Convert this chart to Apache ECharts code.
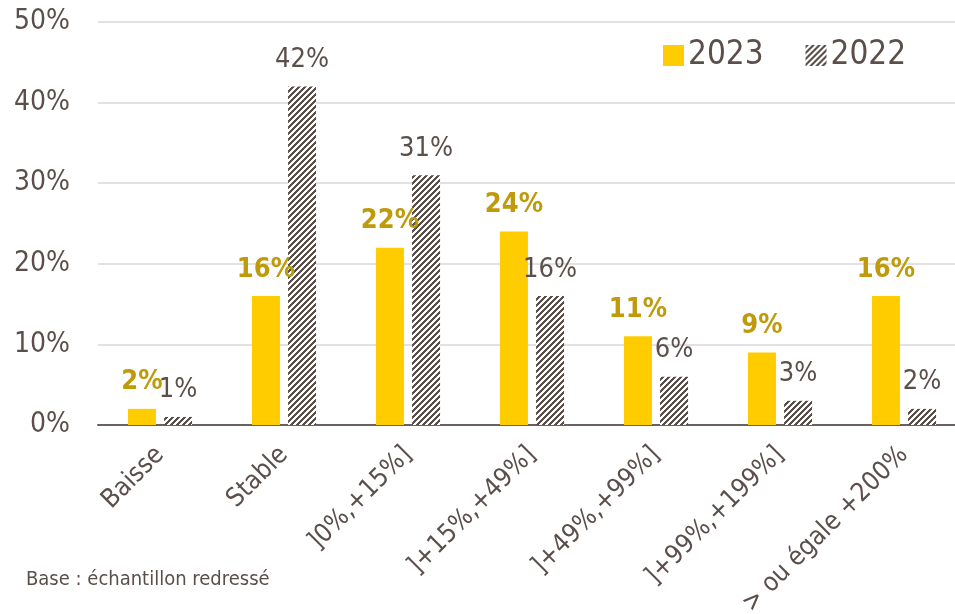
<!DOCTYPE html>
<html>
<head>
<meta charset="utf-8">
<script src="https://cdn.jsdelivr.net/npm/echarts@6/dist/echarts.min.js"></script>
<style>
  html, body { margin: 0; padding: 0; background: #ffffff; }
  #chart { width: 955px; height: 614px; }
</style>
</head>
<body>
<div id="chart"></div>
<script>
// Categories and values (percent)
const categories = ['Baisse', 'Stable', ']0%,+15%]', ']+15%,+49%]', ']+49%,+99%]', ']+99%,+199%]', '> ou égale +200%'];
const values2023 = [2, 16, 22, 24, 11, 9, 16];
const values2022 = [1, 42, 31, 16, 6, 3, 2];
const yTicks = [0, 10, 20, 30, 40, 50];

const FONT = '"Liberation Sans Narrow", "DejaVu Sans Condensed", "Liberation Sans", sans-serif';
const TEXT = '#5b4f4b';
const GOLD = '#bf9a0a';
const YELLOW = '#ffcc00';

// Diagonal hatch tile for the 2022 series
function hatchTile() {
  const n = 6;
  const c = document.createElement('canvas');
  c.width = n; c.height = n;
  const ctx = c.getContext('2d');
  ctx.fillStyle = '#ffffff';
  ctx.fillRect(0, 0, n, n);
  ctx.fillStyle = TEXT;
  for (let x = 0; x < n; x++) {
    for (let y = 0; y < n; y++) {
      if ((x + y) % n < 3) ctx.fillRect(x, y, 1, 1);
    }
  }
  return c;
}
const hatch = { image: hatchTile(), repeat: 'repeat' };

const chart = echarts.init(document.getElementById('chart'), null, { renderer: 'canvas' });
chart.setOption({
  animation: false,
  backgroundColor: '#ffffff',
  textStyle: { fontFamily: FONT },
  // plot area runs slightly past the right edge of the canvas; long labels may be clipped
  grid: { left: 98, width: 868, top: 22, height: 403, containLabel: false, outerBoundsMode: 'none' },
  legend: {
    top: 34, left: 658,
    icon: 'rect',
    itemWidth: 21, itemHeight: 21, itemGap: 42,
    textStyle: { fontFamily: FONT, fontSize: 33, color: TEXT, padding: [0, 0, 0, -1] },
    data: ['2023', '2022']
  },
  xAxis: {
    type: 'category',
    data: categories,
    axisLine: { lineStyle: { color: '#6b6060', width: 2 } },
    axisTick: { show: false },
    axisLabel: { rotate: 45, fontFamily: FONT, fontSize: 26, color: TEXT, margin: 26, interval: 0 }
  },
  yAxis: {
    type: 'value',
    min: yTicks[0], max: yTicks[yTicks.length - 1], interval: 10,
    axisLine: { show: false },
    axisTick: { show: false },
    splitLine: { lineStyle: { color: '#e6e1e1', width: 2 } },
    axisLabel: { fontFamily: FONT, fontSize: 28, color: TEXT, margin: 28, formatter: v => v + '%' }
  },
  series: [
    {
      name: '2023', type: 'bar', data: values2023,
      barWidth: 28, barGap: '29%',
      itemStyle: { color: YELLOW },
      label: { show: true, position: 'top', distance: 13, formatter: p => p.value + '%',
        fontFamily: FONT, fontSize: 27, fontWeight: 'bold', color: GOLD }
    },
    {
      name: '2022', type: 'bar', data: values2022,
      barWidth: 28,
      itemStyle: { color: hatch },
      label: { show: true, position: 'top', distance: 13, formatter: p => p.value + '%',
        fontFamily: FONT, fontSize: 27, color: TEXT }
    }
  ],
  graphic: [
    { type: 'text', left: 26, top: 570,
      style: { text: 'Base : échantillon redressé', fontFamily: FONT, fontSize: 20, fill: TEXT } }
  ]
});
</script>
</body>
</html>
